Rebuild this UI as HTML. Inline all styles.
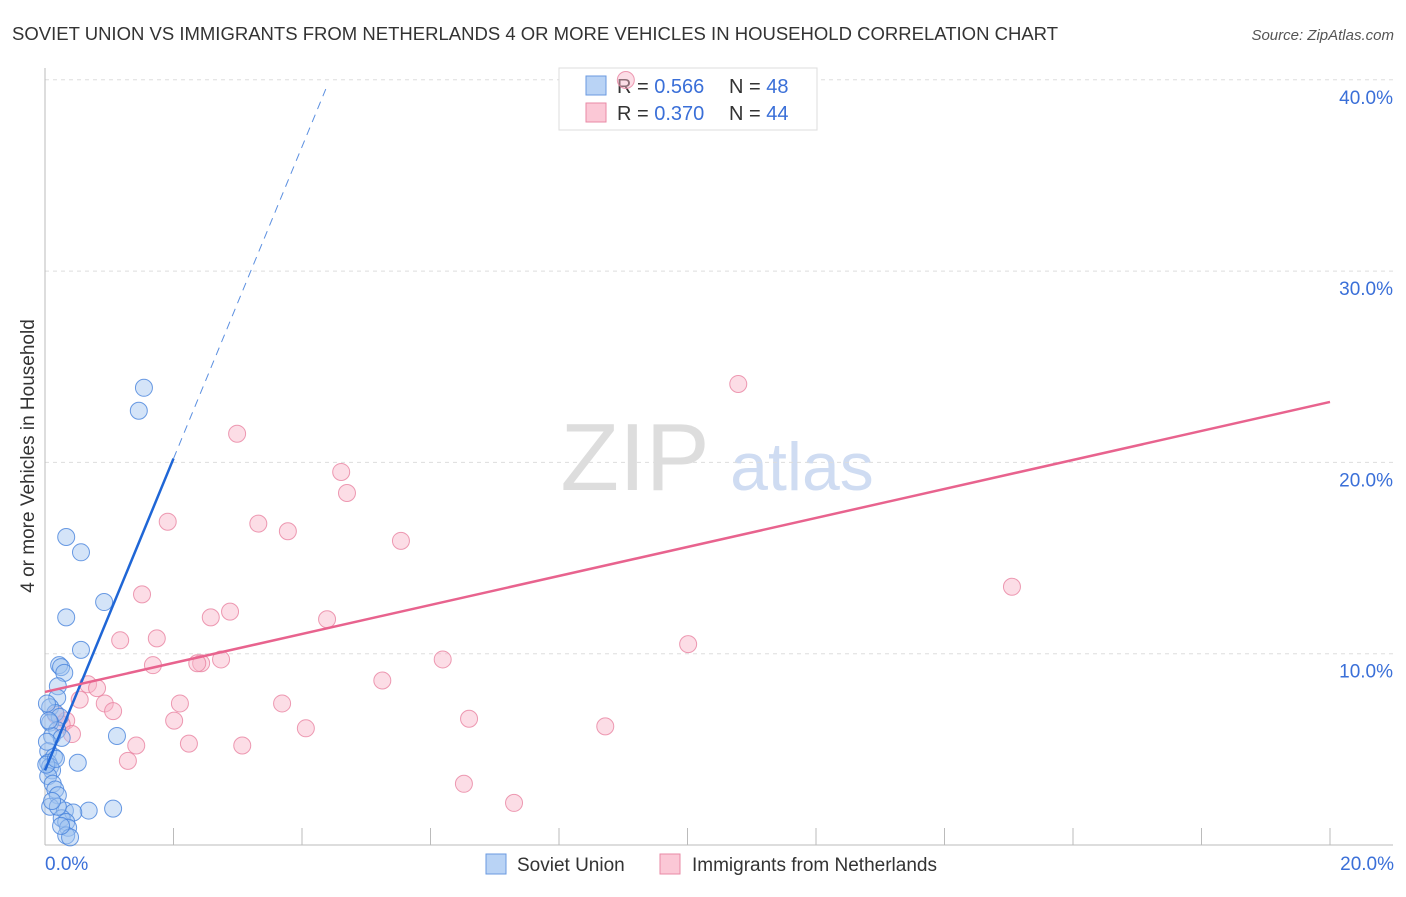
<!DOCTYPE html>
<html><head><meta charset="utf-8"><style>
body{margin:0;background:#fff;font-family:"Liberation Sans",sans-serif;}
svg text{font-family:"Liberation Sans",sans-serif;}
</style></head><body>
<svg width="1406" height="892" viewBox="0 0 1406 892">
<text x="12" y="40" font-size="18" fill="#333" textLength="1046" lengthAdjust="spacingAndGlyphs">SOVIET UNION VS IMMIGRANTS FROM NETHERLANDS 4 OR MORE VEHICLES IN HOUSEHOLD CORRELATION CHART</text>
<text x="1394" y="40" font-size="15" fill="#555" font-style="italic" text-anchor="end">Source: ZipAtlas.com</text>
<g>
<text x="635" y="490" font-size="96" fill="#ddd" font-family="Liberation Serif,serif" text-anchor="middle">ZIP</text>
<text x="802" y="490" font-size="68" fill="#cfdcf2" text-anchor="middle">atlas</text>
</g>
<g id="grid"></g>
<g id="axes"></g>
<g>
<rect x="559" y="68" width="258" height="62" fill="#fff" stroke="#ddd"/>
<rect x="586" y="76" width="20" height="19" fill="#b9d3f5" stroke="#6a9ae0"/>
<rect x="586" y="103" width="20" height="19" fill="#fbc8d6" stroke="#e88aa6"/>
<text x="617" y="93" font-size="20" fill="#333">R = <tspan fill="#3a6fd8">0.566</tspan></text>
<text x="729" y="93" font-size="20" fill="#333">N = <tspan fill="#3a6fd8">48</tspan></text>
<text x="617" y="120" font-size="20" fill="#333">R = <tspan fill="#3a6fd8">0.370</tspan></text>
<text x="729" y="120" font-size="20" fill="#333">N = <tspan fill="#3a6fd8">44</tspan></text>
</g>
<g id="pts"></g>
<g id="lines"></g>
<text transform="translate(34,456) rotate(-90)" font-size="19" fill="#333" text-anchor="middle">4 or more Vehicles in Household</text>
<text x="45" y="870" font-size="19" fill="#3a6fd8">0.0%</text>
<text x="1394" y="870" font-size="19" fill="#3a6fd8" text-anchor="end">20.0%</text>
<g>
<rect x="486" y="854" width="20" height="20" fill="#b9d3f5" stroke="#6a9ae0"/>
<text x="517" y="871" font-size="19" fill="#333">Soviet Union</text>
<rect x="660" y="854" width="20" height="20" fill="#fbc8d6" stroke="#e88aa6"/>
<text x="692" y="871" font-size="19" fill="#333">Immigrants from Netherlands</text>
</g>
</svg>
<script>
const yTicks=[10,20,30,40];
const yTickLabels=["10.0%","20.0%","30.0%","40.0%"];
const xTicks=[2,4,6,8,10,12,14,16,18,20];
const sovietX=[1.54,1.46,0.33,0.56,0.92,0.33,0.56,0.22,0.25,0.3,0.2,0.19,0.08,0.16,0.23,0.08,0.19,0.11,0.26,1.12,0.05,0.14,0.05,0.51,0.08,0.11,0.05,0.12,0.16,0.2,0.08,0.31,1.06,0.68,0.44,0.26,0.33,0.36,0.33,0.39,0.03,0.02,0.06,0.2,0.25,0.11,0.03,0.17];
const sovietY=[23.9,22.7,16.1,15.3,12.7,11.9,10.2,9.4,9.3,9.0,8.3,7.7,7.2,6.9,6.7,6.4,6.0,5.7,5.6,5.7,4.9,4.6,4.3,4.3,4.1,3.9,3.6,3.2,2.9,2.6,2.0,1.8,1.9,1.8,1.7,1.4,1.2,0.9,0.5,0.4,5.4,4.2,6.5,2.0,1.0,2.3,7.4,4.5];
const nethX=[9.04,10.79,2.99,4.61,4.7,1.91,3.32,3.78,5.54,15.05,1.51,2.88,2.58,4.39,1.17,1.74,10.01,1.68,2.43,2.37,2.74,6.19,0.67,0.81,5.25,0.54,2.1,0.93,1.06,3.69,2.01,6.6,4.06,8.72,0.17,0.33,0.26,0.42,1.42,2.24,3.07,1.29,6.52,7.3];
const nethY=[39.99,24.1,21.5,19.5,18.4,16.9,16.8,16.4,15.9,13.5,13.1,12.2,11.9,11.8,10.7,10.8,10.5,9.4,9.5,9.5,9.7,9.7,8.4,8.2,8.6,7.6,7.4,7.4,7.0,7.4,6.5,6.6,6.1,6.2,6.8,6.5,6.3,5.8,5.2,5.3,5.2,4.4,3.2,2.2];
const sovietFit=[3.9,8.15];
const nethFit=[8.0,0.758];
const X=v=>45+v*64.25, Y=v=>845-v*19.13;
const NS="http://www.w3.org/2000/svg";
function mk(t,a,p){const e=document.createElementNS(NS,t);for(const k in a)e.setAttribute(k,a[k]);p.appendChild(e);return e;}
const grid=document.getElementById('grid'),axes=document.getElementById('axes'),pts=document.getElementById('pts'),lines=document.getElementById('lines');
yTicks.forEach((t,i)=>{
 const l=mk('line',{x1:45,x2:1393,y1:Y(t),y2:Y(t),stroke:'#ddd','stroke-dasharray':'4,4'},grid);
 
 
 const tx=mk('text',{x:1393,y:Y(t)+24,'font-size':19,fill:'#3a6fd8','text-anchor':'end'},grid);
 tx.textContent=yTickLabels[i];
 
 
});
const ya=mk('line',{x1:45,x2:45,y1:68,y2:845,stroke:'#bbb'},axes);


const xa=mk('line',{x1:45,x2:1393,y1:845,y2:845,stroke:'#bbb'},axes);


xTicks.forEach(t=>{
 const l=mk('line',{x1:X(t),x2:X(t),y1:828,y2:845,stroke:'#bbb'},axes);
 
 
});
nethX.forEach((x,i)=>{
 const c=mk('circle',{cx:X(x),cy:Y(nethY[i]),r:8.5,fill:'rgba(248,180,200,0.45)',stroke:'rgba(232,130,160,0.8)','stroke-width':1},pts);
 
 
});
sovietX.forEach((x,i)=>{
 const c=mk('circle',{cx:X(x),cy:Y(sovietY[i]),r:8.5,fill:'rgba(160,195,240,0.45)',stroke:'rgba(70,130,220,0.8)','stroke-width':1},pts);
 
 
});
const bs=mk('line',{x1:X(0),y1:Y(sovietFit[0]),x2:X(2),y2:Y(sovietFit[0]+2*sovietFit[1]),stroke:'#1f66d6','stroke-width':2.5},lines);


const bd=mk('line',{x1:X(2),y1:Y(sovietFit[0]+2*sovietFit[1]),x2:X(4.37),y2:Y(sovietFit[0]+4.37*sovietFit[1]),stroke:'#5b8fe0','stroke-width':1,'stroke-dasharray':'8,6'},lines);


const pl=mk('line',{x1:X(0),y1:Y(nethFit[0]),x2:X(20),y2:Y(nethFit[0]+20*nethFit[1]),stroke:'#e8638e','stroke-width':2.5},lines);


</script>
</body></html>
